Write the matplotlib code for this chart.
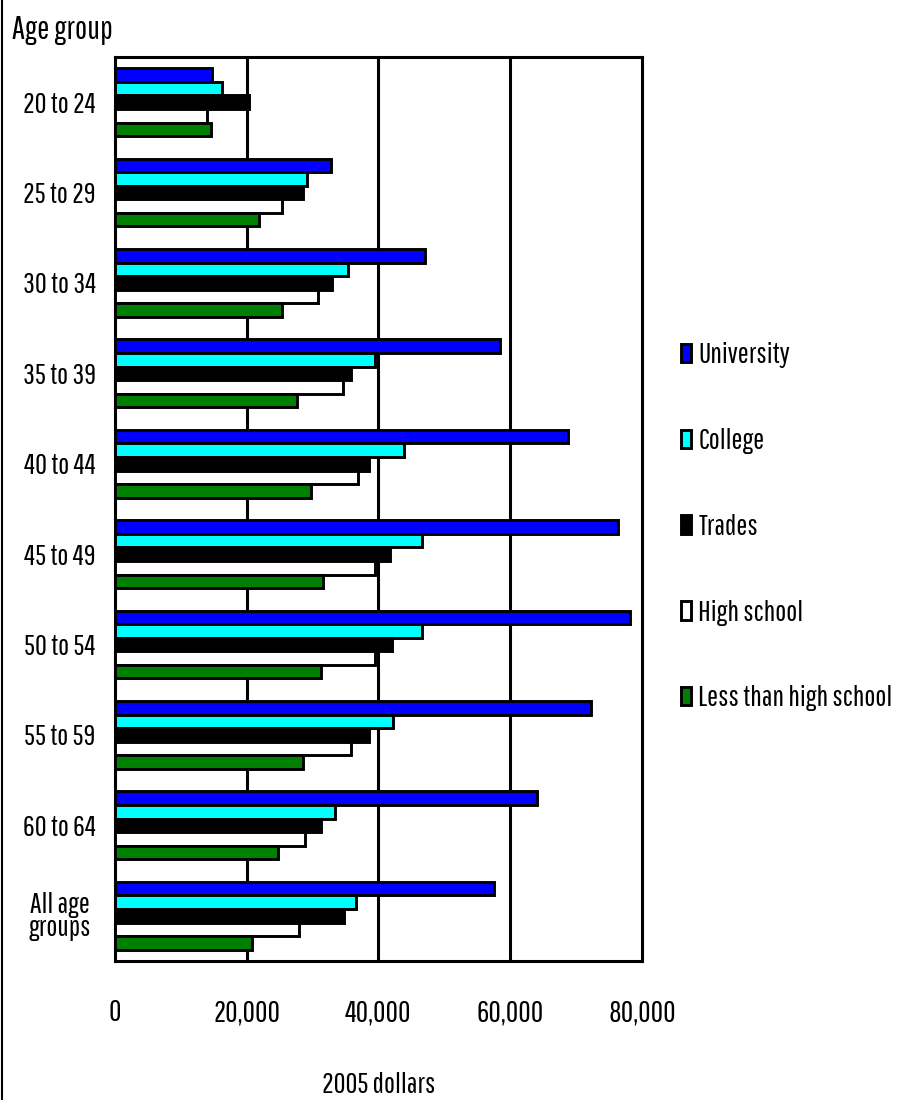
import numpy as np
import matplotlib
matplotlib.use("Agg")
import matplotlib.pyplot as plt
from matplotlib.lines import Line2D

plt.rcParams['font.family'] = ['Pathway Gothic One', 'DejaVu Sans']

# data (2005 dollars)
age_groups = ['20 to 24', '25 to 29', '30 to 34', '35 to 39', '40 to 44',
              '45 to 49', '50 to 54', '55 to 59', '60 to 64', 'All age\ngroups']
series = ['University', 'College', 'Trades', 'High school', 'Less than high school']
university = [14800, 32800, 47000, 58500, 68700, 76300, 78200, 72300, 64100, 57600]
college = [16300, 29200, 35300, 39500, 43900, 46600, 46600, 42200, 33400, 36600]
trades = [20400, 28600, 32900, 35900, 38600, 41800, 42000, 38600, 31300, 34700]
high_school = [14000, 25300, 30800, 34600, 36900, 39500, 39500, 35800, 28800, 27900]
less_hs = [14600, 21900, 25300, 27700, 29700, 31600, 31300, 28500, 24700, 20800]
xticks = [0, 20000, 40000, 60000, 80000]
xtick_labels = ['0', '20,000', '40,000', '60,000', '80,000']

colors = ['#0000ff', '#00ffff', '#000000', '#ffffff', '#008000']
values = [university, college, trades, high_school, less_hs]

fig = plt.figure(figsize=(9.07, 11), dpi=100)
ax = fig.add_axes([0.1268, 0.1264, 0.581, 0.8218])

y = np.arange(len(age_groups))
h = 0.15
for i, (name, vals, c) in enumerate(zip(series, values, colors)):
    ax.barh(y + (i - 2) * h, vals, height=h, color=c, edgecolor='black',
            linewidth=2.1, label=name, zorder=3)

ax.set_xlim(0, 80000)
ax.set_ylim(len(age_groups) - 0.5, -0.5)
for gx in xticks[1:-1]:
    ax.axvline(gx, color='black', lw=2.2, zorder=1)
for s in ax.spines.values():
    s.set_linewidth(2.2)

ax.set_yticks(y)
ax.set_yticklabels(age_groups, fontsize=21, ha='center', linespacing=0.85)
ax.set_xticks(xticks)
ax.set_xticklabels(xtick_labels, fontsize=22)
ax.tick_params(axis='y', length=0, pad=40)
ax.tick_params(axis='x', length=0, pad=27)
ax.set_xlabel('2005 dollars', fontsize=21, labelpad=32)

fig.text(0.013, 0.973, 'Age group', fontsize=23.5, ha='left', va='center')

leg = fig.legend(loc='center left', bbox_to_anchor=(0.751, 0.521), frameon=False,
                 fontsize=21, handlelength=0.34, handleheight=0.6,
                 handletextpad=0.25, labelspacing=2.05, borderpad=0,
                 borderaxespad=0)

fig.add_artist(Line2D([0.002, 0.002], [0, 1], transform=fig.transFigure,
                      color='black', lw=1.5))

fig.savefig('out.png', dpi=100)
